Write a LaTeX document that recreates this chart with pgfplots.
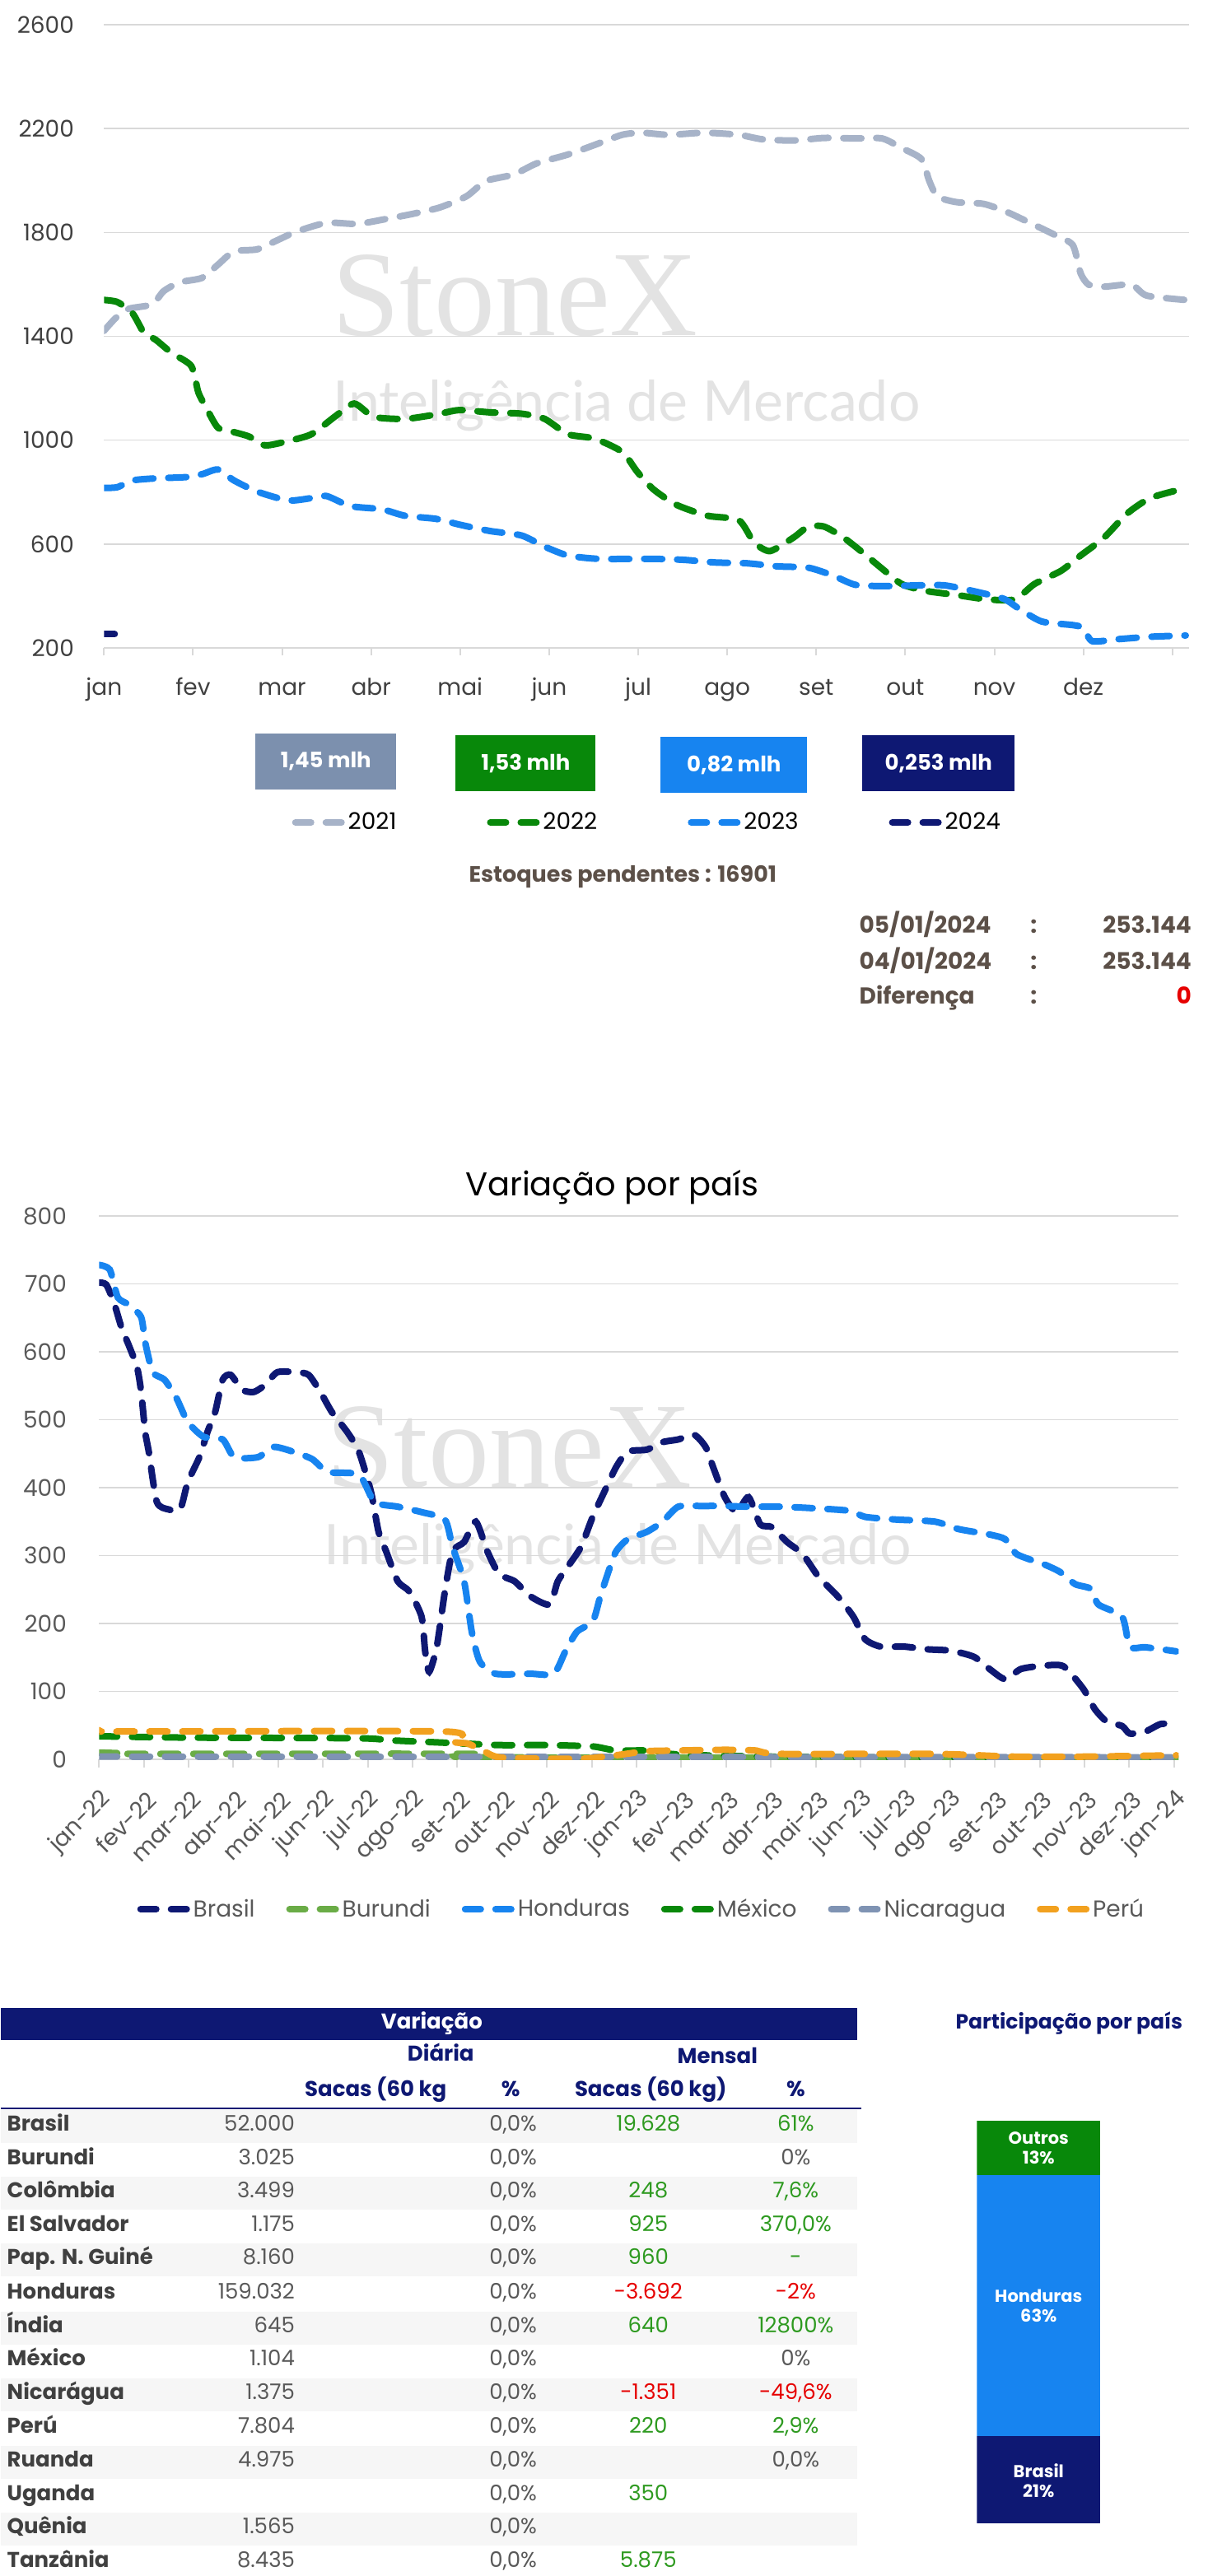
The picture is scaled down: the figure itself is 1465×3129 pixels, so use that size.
\documentclass[border=0pt]{standalone}
\usepackage{pgfplots}
\pgfplotsset{compat=1.18}
\usepackage{fontspec}
\setmainfont{Poppins}
\newfontfamily\wmserif{Liberation Serif}
\newfontfamily\wmsans{Lato}
\definecolor{c21}{HTML}{A7B3C8}
\definecolor{c21box}{HTML}{7C90AE}
\definecolor{c22}{HTML}{08880A}
\definecolor{c23}{HTML}{1784F0}
\definecolor{c24}{HTML}{0E1873}
\definecolor{gridc}{HTML}{D9D9D9}
\definecolor{tickc}{HTML}{404040}
\definecolor{tickb}{HTML}{595959}
\definecolor{brownc}{HTML}{5C5048}
\definecolor{burc}{HTML}{6AAC46}
\definecolor{nicc}{HTML}{7F93B3}
\definecolor{peruc}{HTML}{F2A11F}
\definecolor{wm}{HTML}{E3E3E3}
\definecolor{greenT}{HTML}{2E9A20}
\definecolor{redT}{HTML}{E60000}
\definecolor{band}{HTML}{F6F6F6}
\definecolor{rowc}{HTML}{404040}
\definecolor{valc}{HTML}{595959}
\pgfplotsset{
  dl/.style={line width=4pt, line cap=round, dash pattern=on 11pt off 9pt, smooth, tension=0.4, no markers},
}
\newcommand\tfont{\fontsize{13}{15}\selectfont}
\begin{document}
\begin{tikzpicture}[x=0.5pt,y=-0.5pt]
\path (0,0) rectangle (1465,3129);
% watermarks
\node[anchor=base west, inner sep=0, text=wm, font=\wmserif\fontsize{74}{74}\selectfont] at (402,407) {StoneX};
\node[anchor=base west, inner sep=0, text=wm, font=\wmsans\fontsize{34}{34}\selectfont] at (403,511) {Inteligência de Mercado};
\node[anchor=base west, inner sep=0, text=wm, font=\wmserif\fontsize{74}{74}\selectfont] at (395,1806) {StoneX};
\node[anchor=base west, inner sep=0, text=wm, font=\wmsans\fontsize{34}{34}\selectfont] at (392,1900) {Inteligência de Mercado};

% ---------- Chart 1
\begin{axis}[
  at={(62.5pt,-393.5pt)}, anchor=south west, scale only axis,
  width=659pt, height=378.5pt,
  xmin=0, xmax=12.19, ymin=200, ymax=2600,
  ytick={200,600,...,2600}, xtick={0,...,12},
  xticklabels={jan,fev,mar,abr,mai,jun,jul,ago,set,out,nov,dez,{}},
  axis x line*=bottom, axis y line*=left,
  y axis line style={draw=none}, x axis line style={gridc, line width=1pt},
  ytick style={draw=none}, xtick style={gridc, line width=1pt},
  major tick length=4.5pt, tick align=outside,
  ymajorgrids, grid style={gridc, line width=0.8pt},
  tick label style={font=\fontsize{14}{16}\selectfont, text=tickc},
  /pgf/number format/assume math mode=true,
  /pgf/number format/1000 sep={},
  yticklabel style={anchor=east, inner sep=0pt, xshift=-13.5pt},
  xticklabel style={anchor=base, inner sep=0pt, yshift=-24pt},
  legend columns=4,
  legend style={at={(0.173,-0.28)}, anchor=west, draw=none, fill=none, inner sep=0pt,
    font=\fontsize{14}{16}\selectfont, /tikz/every even column/.append style={column sep=53pt}},
  legend image code/.code={\draw[#1, dash pattern=on 9.5pt off 9pt] (2pt,0pt) -- (30pt,0pt);},
]
\addplot[dl, c21] coordinates {(0,1421) (0.13,1470) (0.28,1506) (0.54,1523) (0.67,1574) (0.85,1608) (1.1,1625) (1.28,1676) (1.46,1727) (1.72,1735) (1.94,1769) (2.16,1803) (2.5,1837) (2.85,1833) (3.2,1854) (3.46,1871) (3.77,1896) (4.07,1939) (4.29,1998) (4.6,2023) (4.86,2066) (5.21,2100) (5.51,2137) (5.82,2176) (6.04,2184) (6.34,2176) (6.74,2184) (7.13,2176) (7.39,2159) (7.74,2154) (8.09,2164) (8.44,2162) (8.74,2162) (8.96,2125) (9.18,2083) (9.27,1998) (9.36,1939) (9.57,1917) (9.88,1910) (10.14,1879) (10.4,1837) (10.66,1794) (10.88,1752) (10.97,1642) (11.06,1599) (11.23,1591) (11.54,1599) (11.71,1557) (12.15,1540)};
\addlegendentry{2021}
\addplot[dl, c22] coordinates {(0,1540) (0.15,1532) (0.32,1489) (0.45,1413) (0.58,1387) (0.76,1336) (0.98,1286) (1.06,1184) (1.15,1124) (1.28,1048) (1.46,1031) (1.63,1014) (1.81,980) (2.07,997) (2.33,1023) (2.59,1090) (2.81,1141) (3.03,1090) (3.38,1082) (3.73,1099) (3.99,1116) (4.34,1107) (4.69,1102) (4.95,1082) (5.21,1023) (5.51,1006) (5.82,955) (5.99,878) (6.17,811) (6.43,751) (6.78,709) (7.13,692) (7.3,607) (7.48,573) (7.74,624) (7.91,667) (8.09,667) (8.31,624) (8.53,565) (8.74,505) (8.96,446) (9.22,420) (9.57,404) (9.92,387) (10.23,387) (10.45,446) (10.75,497) (10.97,556) (11.23,624) (11.49,717) (11.75,777) (12.1,811)};
\addlegendentry{2022}
\addplot[dl, c23] coordinates {(0,816) (0.15,819) (0.32,845) (0.58,853) (0.93,858) (1.11,870) (1.28,887) (1.46,845) (1.72,802) (2.07,768) (2.33,777) (2.5,785) (2.77,746) (3.12,734) (3.38,709) (3.73,697) (3.99,675) (4.34,650) (4.69,633) (4.95,590) (5.21,556) (5.56,543) (6.17,543) (6.52,539) (6.87,529) (7.22,526) (7.57,514) (7.91,509) (8.18,480) (8.44,443) (8.79,438) (9.14,441) (9.44,441) (9.75,420) (10.1,390) (10.27,353) (10.53,302) (10.88,288) (11.0,277) (11.1,226) (11.4,234) (11.75,243) (12.15,248)};
\addlegendentry{2023}
\addplot[dl, c24] coordinates {(0,253) (0.12,253)};
\addlegendentry{2024}
\end{axis}

% boxes
\fill[c21box] (309,891) rectangle (480,959);
\fill[c22] (552,893) rectangle (722,961);
\fill[c23] (801,895) rectangle (979,963);
\fill[c24] (1046,893) rectangle (1231,961);
\node[text=white, font=\bfseries\fontsize{13}{15}\selectfont] at (394.5,925) {1,45 mlh};
\node[text=white, font=\bfseries\fontsize{13}{15}\selectfont] at (637,927) {1,53 mlh};
\node[text=white, font=\bfseries\fontsize{13}{15}\selectfont] at (890,929) {0,82 mlh};
\node[text=white, font=\bfseries\fontsize{13}{15}\selectfont] at (1138.5,927) {0,253 mlh};

\node[text=brownc, font=\bfseries\fontsize{13.5}{16}\selectfont] at (755,1065) {Estoques pendentes : 16901};
\begin{scope}[every node/.style={text=brownc, font=\bfseries\fontsize{14}{16}\selectfont, inner sep=0pt}]
\node[anchor=mid west] at (1042,1128) {05/01/2024};
\node[anchor=mid] at (1254,1128) {:};
\node[anchor=mid east] at (1446,1128) {253.144};
\node[anchor=mid west] at (1042,1172) {04/01/2024};
\node[anchor=mid] at (1254,1172) {:};
\node[anchor=mid east] at (1446,1172) {253.144};
\node[anchor=mid west] at (1042,1214) {Diferença};
\node[anchor=mid] at (1254,1214) {:};
\node[anchor=mid east, text=redT] at (1446,1214) {0};
\end{scope}

% ---------- Chart 2
\node[font=\fontsize{20}{24}\selectfont] at (742,1442) {Variação por país};
\begin{axis}[
  at={(59.5pt,-1068.5pt)}, anchor=south west, scale only axis,
  width=655.5pt, height=330pt,
  xmin=0, xmax=24.1, ymin=0, ymax=800,
  ytick={0,100,...,800}, xtick={0,...,24},
  xticklabels={jan-22,fev-22,mar-22,abr-22,mai-22,jun-22,jul-22,ago-22,set-22,out-22,nov-22,dez-22,jan-23,fev-23,mar-23,abr-23,mai-23,jun-23,jul-23,ago-23,set-23,out-23,nov-23,dez-23,jan-24},
  axis x line*=bottom, axis y line*=left,
  y axis line style={draw=none}, x axis line style={gridc, line width=1pt},
  ytick style={draw=none}, xtick style={gridc, line width=1pt},
  major tick length=5pt, tick align=outside,
  ymajorgrids, grid style={gridc, line width=0.8pt},
  tick label style={font=\fontsize{14}{16}\selectfont, text=tickb},
  /pgf/number format/assume math mode=true,
  yticklabel style={anchor=east, inner sep=0pt, xshift=-14.5pt},
  xticklabel style={xshift=5pt, yshift=-17pt, rotate=45, anchor=east, inner sep=0pt},
  legend columns=6,
  legend style={at={(0.0351,-0.2758)}, anchor=west, draw=none, fill=none, inner sep=0pt,
    font=\fontsize{14}{16}\selectfont, text=tickb, /tikz/every even column/.append style={column sep=17pt}},
  legend image code/.code={\draw[#1, dash pattern=on 9.5pt off 9pt] (2pt,0pt) -- (30pt,0pt);},
]
\addplot[dl, c24] coordinates {(0,702) (0.16,699) (0.33,673) (0.5,636) (0.68,607) (0.85,577) (0.94,541) (1.03,482) (1.11,453) (1.29,379) (1.55,368) (1.81,368) (1.98,408) (2.24,445) (2.42,482) (2.59,511) (2.76,559) (2.94,566) (3.2,544) (3.46,541) (3.72,552) (3.98,570) (4.41,570) (4.68,566) (4.94,541) (5.2,511) (5.54,482) (5.8,453) (6.07,394) (6.24,335) (6.41,306) (6.67,262) (6.93,247) (7.2,210) (7.28,159) (7.37,129) (7.54,166) (7.72,247) (7.89,306) (8.15,320) (8.41,350) (8.67,306) (8.93,273) (9.28,262) (9.63,240) (10.06,228) (10.24,262) (10.5,287) (10.76,313) (11.02,357) (11.28,394) (11.54,430) (11.8,453) (12.23,456) (12.58,467) (12.93,471) (13.28,478) (13.54,460) (13.71,430) (13.97,386) (14.23,364) (14.5,386) (14.76,346) (15.02,342) (15.36,320) (15.71,302) (16.06,269) (16.49,240) (16.84,210) (17.1,177) (17.45,166) (17.97,166) (18.49,162) (19.01,160) (19.53,151) (19.88,133) (20.23,118) (20.58,133) (21.1,138) (21.53,137) (21.97,104) (22.23,74) (22.49,56) (22.84,49) (23.01,38) (23.36,41) (23.7,52) (24.05,52)};
\addlegendentry{Brasil}
\addplot[dl, burc] coordinates {(0,10) (0.5,9) (1,8) (8.3,8) (8.6,3) (24.05,2)};
\addlegendentry{Burundi}
\addplot[dl, c23] coordinates {(0,728) (0.24,721) (0.42,680) (0.68,669) (0.94,651) (1.03,614) (1.2,570) (1.46,559) (1.72,533) (1.98,497) (2.33,475) (2.76,471) (3.02,445) (3.55,445) (3.89,460) (4.33,453) (4.76,442) (5.11,423) (5.8,419) (6.15,379) (6.67,372) (7.2,364) (7.72,353) (7.89,313) (8.15,262) (8.32,188) (8.5,144) (8.85,126) (9.63,126) (10.15,126) (10.41,159) (10.67,188) (11.02,203) (11.19,240) (11.37,276) (11.54,306) (11.8,324) (12.23,335) (12.58,350) (12.93,372) (13.45,373) (13.97,373) (14.5,372) (15.19,372) (15.88,370) (16.75,366) (17.1,357) (17.8,353) (18.66,350) (19.19,339) (19.88,331) (20.23,324) (20.49,302) (21.1,287) (21.45,276) (21.79,258) (22.14,251) (22.31,228) (22.84,210) (23.01,166) (23.36,165) (24.05,159)};
\addlegendentry{Honduras}
\addplot[dl, c22] coordinates {(0,34) (2,32) (5.8,31) (6.5,28) (7.54,25) (8.24,23) (8.93,21) (9.98,21) (11.02,19) (11.54,13) (12.23,13) (12.76,8) (13.45,6) (15,4) (17,3) (20,1.5) (24.05,1.5)};
\addlegendentry{México}
\addplot[dl, nicc] coordinates {(0,4) (12,3.5) (24.05,3)};
\addlegendentry{Nicaragua}
\addplot[dl, peruc] coordinates {(0,43) (0.3,41) (7.7,41) (7.89,26) (8.24,23) (8.59,12) (8.93,3) (9.98,1) (10.84,1) (11.54,6) (12.23,12) (12.93,13) (13.97,14) (14.67,13) (15.19,8) (18.66,8) (20.4,4) (22,4) (24.05,6)};
\addlegendentry{Perú}
\end{axis}

% ---------- Table
\foreach \yy in {2583,2664,2745,2828,2909,2991,3072} {\fill[band] (0,\yy-20) rectangle (1040,\yy+20);}
\fill[c24] (0,2439) rectangle (1040,2478);
\node[text=white, font=\bfseries\tfont] at (523,2458) {Variação};
\begin{scope}[every node/.style={text=c24, font=\bfseries\tfont, inner sep=0pt}]
\node[anchor=mid] at (534,2498) {Diária};
\node[anchor=mid] at (870,2501) {Mensal};
\node[anchor=mid] at (455,2541) {Sacas (60 kg};
\node[anchor=mid] at (619,2541) {\%};
\node[anchor=mid] at (789,2541) {Sacas (60 kg)};
\node[anchor=mid] at (965,2541) {\%};
\end{scope}
\draw[c24, line width=1.3pt] (0,2561) -- (1045,2561);
\newcommand\trow[6]{%
  \node[anchor=mid west, inner sep=0pt, text=rowc, font=\bfseries\tfont] at (7,#1) {#2};
  \node[anchor=mid east, inner sep=0pt, text=valc, font=\tfont] at (357,#1) {#3};
  \node[anchor=mid east, inner sep=0pt, text=valc, font=\tfont] at (651,#1) {0,0\%};
  \node[anchor=mid, inner sep=0pt, font=\tfont] at (786,#1) {#4};
  \node[anchor=mid, inner sep=0pt, font=\tfont] at (965,#1) {#5};
}
\trow{2583}{Brasil}{52.000}{\color{greenT}19.628}{\color{greenT}61\%}{}
\trow{2624}{Burundi}{3.025}{}{\color{valc}0\%}{}
\trow{2664}{Colômbia}{3.499}{\color{greenT}248}{\color{greenT}7,6\%}{}
\trow{2705}{El Salvador}{1.175}{\color{greenT}925}{\color{greenT}370,0\%}{}
\trow{2745}{Pap. N. Guiné}{8.160}{\color{greenT}960}{\color{greenT}-}{}
\trow{2787}{Honduras}{159.032}{\color{redT}-3.692}{\color{redT}-2\%}{}
\trow{2828}{Índia}{645}{\color{greenT}640}{\color{greenT}12800\%}{}
\trow{2868}{México}{1.104}{}{\color{valc}0\%}{}
\trow{2909}{Nicarágua}{1.375}{\color{redT}-1.351}{\color{redT}-49,6\%}{}
\trow{2950}{Perú}{7.804}{\color{greenT}220}{\color{greenT}2,9\%}{}
\trow{2991}{Ruanda}{4.975}{}{\color{valc}0,0\%}{}
\trow{3032}{Uganda}{}{\color{greenT}350}{}{}
\trow{3072}{Quênia}{1.565}{}{}{}
\trow{3113}{Tanzânia}{8.435}{\color{greenT}5.875}{}{}

% ---------- Participação
\node[text=c24, font=\bfseries\fontsize{12.5}{14}\selectfont] at (1297,2457) {Participação por país};
\begin{axis}[
  at={(592.5pt,-1532.5pt)}, anchor=south west, scale only axis,
  width=75pt, height=244.5pt, hide axis,
  xmin=-0.5, xmax=0.5, ymin=0, ymax=97,
  ybar stacked, bar width=75pt,
]
\addplot[fill=c24, draw=none] coordinates {(0,21)};
\addplot[fill=c23, draw=none] coordinates {(0,63)};
\addplot[fill=c22, draw=none] coordinates {(0,13)};
\end{axis}
\begin{scope}[every node/.style={text=white, align=center, font=\bfseries\fontsize{10.5}{12}\selectfont}]
\node at (1260,3013) {Brasil\\21\%};
\node at (1260,2801) {Honduras\\63\%};
\node at (1260,2609) {Outros\\13\%};
\end{scope}
\end{tikzpicture}
\end{document}
